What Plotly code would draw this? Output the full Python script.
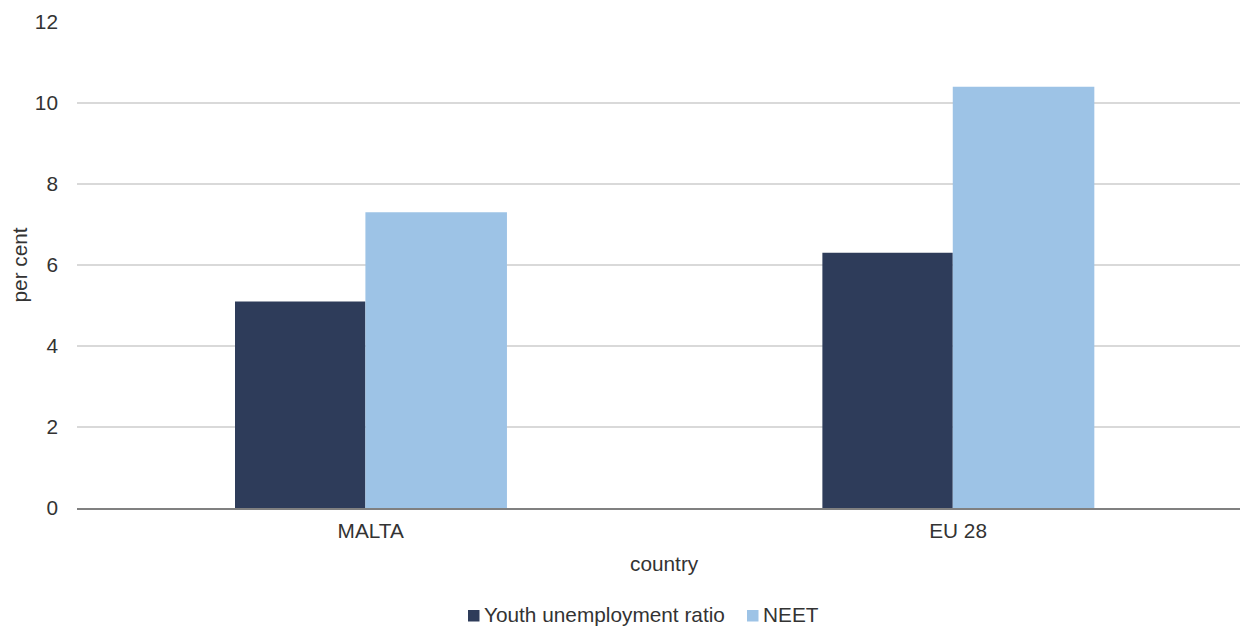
import plotly.graph_objects as go

countries = ["MALTA", "EU 28"]
youth_unemployment = [5.1, 6.3]
neet = [7.3, 10.4]
y_ticks = [0, 2, 4, 6, 8, 10, 12]

DARK = "#2E3C5A"
LIGHT = "#9DC3E6"
TEXT = "#333333"
FONT = "Liberation Sans, Arial, sans-serif"
FS = 20.8

fig = go.Figure()
fig.add_trace(go.Bar(
    x=countries, y=youth_unemployment, name="Youth unemployment ratio",
    marker=dict(color=DARK, line=dict(width=0)),
    offset=-0.231, width=0.222, showlegend=False,
))
fig.add_trace(go.Bar(
    x=countries, y=neet, name="NEET",
    marker=dict(color=LIGHT, line=dict(width=0)),
    offset=-0.009, width=0.241, showlegend=False,
))

# plot area spans x = 77..1240 px, y = 22..508 px
L, R, T, B = 77, 0, 22, 118
W, H = 1240, 626
pw, ph = W - L - R, H - T - B

def px(x):
    return (x - L) / pw

def py(y):
    return (H - B - y) / ph

def txt(text, x, y, xanchor="center", angle=0):
    return dict(text=text, x=px(x), y=py(y), xref="paper", yref="paper",
                xanchor=xanchor, yanchor="middle", showarrow=False,
                textangle=angle, font=dict(size=FS, color=TEXT, family=FONT))

annotations = [
    txt("country", 664, 563),
    txt("per cent", 18.5, 265, angle=-90),
    txt("Youth unemployment ratio", 482, 614, xanchor="left"),
    txt("NEET", 761, 614, xanchor="left"),
]

# legend swatches
shapes = [
    dict(type="rect", xref="paper", yref="paper",
         x0=px(468), x1=px(479.5), y0=py(610), y1=py(621.5),
         fillcolor=DARK, line=dict(width=0)),
    dict(type="rect", xref="paper", yref="paper",
         x0=px(747), x1=px(758.5), y0=py(610), y1=py(621.5),
         fillcolor=LIGHT, line=dict(width=0)),
]

fig.update_layout(
    width=W, height=H,
    margin=dict(l=L, r=R, t=T, b=B, pad=0),
    paper_bgcolor="white", plot_bgcolor="white",
    barmode="overlay",
    font=dict(family=FONT, size=FS, color=TEXT),
    annotations=annotations,
    shapes=shapes,
    xaxis=dict(
        type="category", range=[-0.5, 1.48],
        showgrid=False, showline=True, linecolor="#808080", linewidth=2,
        ticks="", ticklabelstandoff=3,
        tickfont=dict(size=FS, color=TEXT, family=FONT),
        zeroline=False,
    ),
    yaxis=dict(
        range=[0, 12], tickvals=y_ticks,
        showgrid=True, gridcolor="#D9D9D9", gridwidth=1.5,
        showline=False, zeroline=False,
        ticks="", ticklabelstandoff=18,
        tickfont=dict(size=FS, color=TEXT, family=FONT),
    ),
)

fig.write_html("out.html")
